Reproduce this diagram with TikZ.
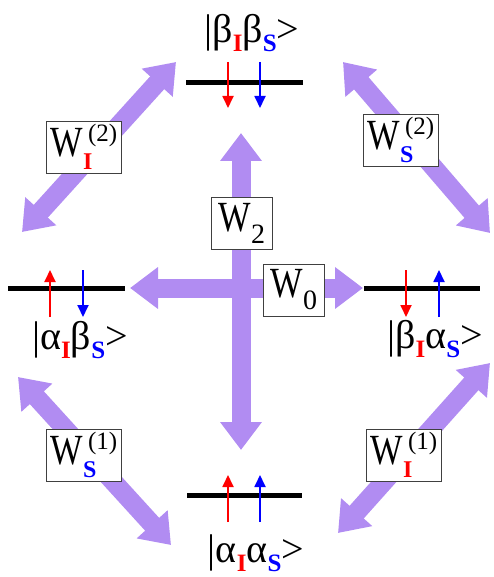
\documentclass[tikz,border=0pt]{standalone}
\usepackage{fontspec}
\setmainfont{Liberation Serif}
\newfontfamily\rateW{Liberation Serif}[FakeStretch=0.8]
\usepackage{xcolor}
\usetikzlibrary{arrows.meta,positioning}
\definecolor{TransPurple}{HTML}{B18CF2}
\definecolor{SpinI}{HTML}{FF0000}
\definecolor{SpinS}{HTML}{0000FF}
\newcommand{\spinI}{\textcolor{SpinI}{\bfseries I}}
\newcommand{\spinS}{\textcolor{SpinS}{\bfseries S}}
% lowered spin index in the level labels
\newcommand{\lvlsub}[1]{\raisebox{-9pt}{\fontsize{25}{25}\selectfont #1}}
% W with a subscript, or with a superscript and a subscript stacked
\newcommand{\bigW}{{\rateW\fontsize{43}{43}\selectfont W}}
\newcommand{\ratesub}[1]{\bigW\raisebox{-12pt}{\fontsize{28}{28}\selectfont #1}}
\newcommand{\rate}[2]{\bigW\rlap{\raisebox{-13pt}{\fontsize{24}{24}\selectfont #2}}\hspace{5pt}\raisebox{15pt}{\fontsize{25}{25}\selectfont #1}}

\begin{document}
\begin{tikzpicture}[x=1pt,y=-1pt,
    every node/.style={font=\fontsize{40}{40}\selectfont},
    trans/.style={draw=TransPurple,line width=19pt,<->,>={Triangle[length=28pt,width=40pt]}},
    wbox/.style={draw=black!75,fill=white,line width=0.8pt,inner xsep=4pt,inner ysep=3pt,minimum width=61pt,minimum height=52pt},
    level/.style={line width=5pt},
    spin/.style={line width=1.8pt,-{Triangle[length=12pt,width=11pt]}}]
  \useasboundingbox (0,0) rectangle (493,577);
  % end points of the transition arrows
  \coordinate (ctrW) at (130,288);
  \coordinate (ctrE) at (363,288);
  \coordinate (ctrN) at (241,133);
  \coordinate (ctrS) at (241,450);
  \coordinate (nwUp) at (176,62);
  \coordinate (nwDn) at (22,232);
  \coordinate (neUp) at (343,62);
  \coordinate (neDn) at (490,233);
  \coordinate (swUp) at (18,377);
  \coordinate (swDn) at (171,545);
  \coordinate (seUp) at (490,363);
  \coordinate (seDn) at (338,533);
  % transitions
  \draw[trans] (ctrW) -- (ctrE);
  \draw[trans] (ctrN) -- (ctrS);
  \draw[trans] (nwUp) -- (nwDn);
  \draw[trans] (neUp) -- (neDn);
  \draw[trans] (swUp) -- (swDn);
  \draw[trans] (seUp) -- (seDn);
  % rates
  \node[wbox] (W2) at (242,223) {\ratesub{2}};
  \node[wbox] (W0) at (294,290) {\ratesub{0}};
  \node[wbox] (WI2) at (84,147) {\rate{(2)}{\spinI}};
  \node[wbox] (WS2) at (401,140) {\rate{(2)}{\spinS}};
  \node[wbox] (WS1) at (84,455) {\rate{(1)}{\spinS}};
  \node[wbox] (WI1) at (404,455) {\rate{(1)}{\spinI}};
  % levels
  \draw[level] (186,83) -- (303,83);
  \draw[spin,SpinI] (228,62) -- (228,108);
  \draw[spin,SpinS] (260,62) -- (260,108);
  \node[anchor=base] (BB) at (252,43) {|β\lvlsub{\spinI}β\lvlsub{\spinS}>};
  \draw[level] (8,288) -- (125,288);
  \draw[spin,SpinI] (50,317) -- (50,270);
  \draw[spin,SpinS] (83,270) -- (83,317);
  \node[anchor=base] (AB) at (80,349) {|α\lvlsub{\spinI}β\lvlsub{\spinS}>};
  \draw[level] (364,288) -- (480,288);
  \draw[spin,SpinI] (406,270) -- (406,317);
  \draw[spin,SpinS] (439,317) -- (439,270);
  \node[anchor=base] (BA) at (435,348) {|β\lvlsub{\spinI}α\lvlsub{\spinS}>};
  \draw[level] (187,495) -- (302,495);
  \draw[spin,SpinI] (228,522) -- (228,475);
  \draw[spin,SpinS] (260,522) -- (260,475);
  \node[anchor=base] (AA) at (256,562) {|α\lvlsub{\spinI}α\lvlsub{\spinS}>};
\end{tikzpicture}
\end{document}
